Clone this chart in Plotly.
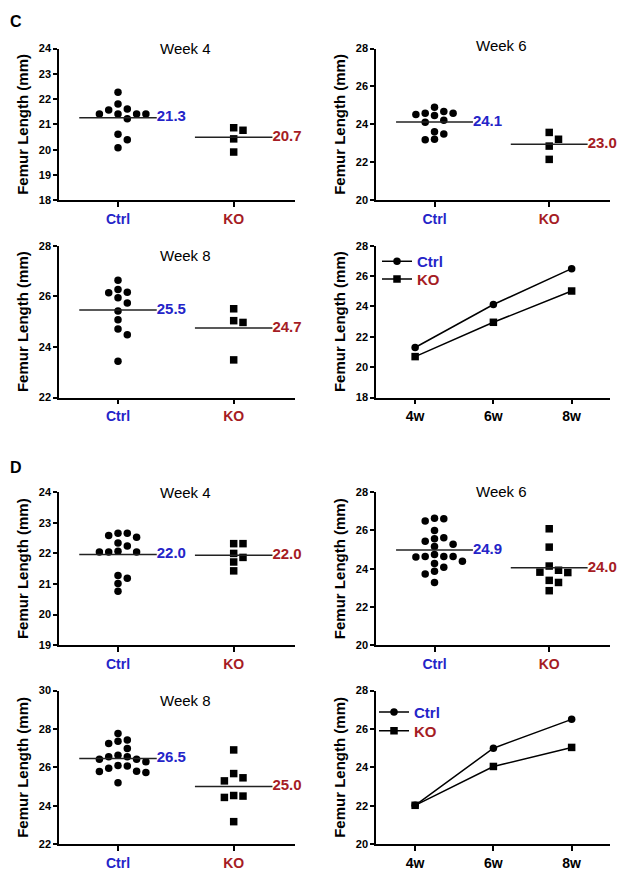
import numpy as np
import plotly.graph_objects as go

# ---------------- data ----------------
groups = ["Ctrl", "KO"]
weeks = ["4w", "6w", "8w"]

c_w4_ctrl = [22.27, 21.81, 21.61, 21.41, 21.41, 21.41, 21.41, 21.57, 21.23, 20.61, 20.40, 20.08]
c_w4_ko = [20.77, 20.87, 20.43, 19.91]
c_w6_ctrl = [24.59, 24.52, 24.22, 24.12, 24.68, 24.90, 24.47, 24.59, 23.50, 23.62, 23.19, 23.22]
c_w6_ko = [23.22, 23.58, 22.86, 22.16]
c_w8_ctrl = [26.64, 26.27, 26.14, 26.16, 25.95, 25.74, 25.42, 25.08, 24.71, 24.48, 23.44]
c_w8_ko = [25.04, 25.51, 24.97, 23.49]

d_w4_ctrl = [22.66, 22.59, 22.53, 22.66, 22.24, 22.34, 22.05, 22.05, 22.05, 22.07, 21.28, 21.19, 21.02, 20.76]
d_w4_ko = [22.00, 22.32, 22.32, 21.87, 21.72, 21.43]
d_w6_ctrl = [26.61, 26.50, 26.64, 26.00, 25.57, 25.62, 25.28, 25.16, 25.44, 24.64, 24.64, 24.61,
             24.64, 24.75, 24.39, 24.27, 24.08, 23.87, 23.73, 23.28]
d_w6_ko = [26.09, 25.13, 23.80, 23.92, 24.14, 23.82, 23.39, 23.28, 22.85]
d_w8_ctrl = [27.77, 27.43, 27.25, 27.36, 26.98, 26.63, 26.10, 26.55, 26.42, 26.29, 26.42, 26.55,
             26.08, 25.96, 25.79, 25.73, 25.80, 25.20]
d_w8_ko = [26.91, 25.68, 25.46, 25.30, 24.51, 24.44, 24.54, 23.18]

c_mean_labels = [["21.3", "20.7"], ["24.1", "23.0"], ["25.5", "24.7"]]
d_mean_labels = [["22.0", "22.0"], ["24.9", "24.0"], ["26.5", "25.0"]]

c_line_ctrl = [21.30, 24.13, 26.49]
c_line_ko = [20.70, 22.96, 25.02]
d_line_ctrl = [22.03, 25.00, 26.50]
d_line_ko = [22.03, 24.05, 25.04]

# ---------------- layout helpers ----------------
PAGE_W, PAGE_H = 629, 883
OFF = 8                      # default body margin of the html page (all sides)
FW, FH = PAGE_W - 2 * OFF, PAGE_H - 2 * OFF


def px(x):                   # page x pixel -> paper fraction
    return (x - OFF) / FW


def py(y):                   # page y pixel -> paper fraction
    return 1 - (y - OFF) / FH


BLUE = "#2424c8"
RED = "#a51c24"
FONT = "Arial, Liberation Sans, sans-serif"

XL = [px(59), px(295)]
XR = [px(376), px(610)]
ROWS = {
    "c1": [py(197), py(43)],
    "c2": [py(397), py(243)],
    "d1": [py(648), py(493)],
    "d2": [py(850), py(694)],
}
SCAT_RANGE = [-0.51, 1.53]
LINE_RANGE = [-0.5, 2.49]

fig = go.Figure()


def swarm(vals, xdom, xrange_, ydom, yrange_, step_px=9.3, diam_px=7.6):
    xppu = (xdom[1] - xdom[0]) * FW / (xrange_[1] - xrange_[0])
    yppu = (ydom[1] - ydom[0]) * FH / (yrange_[1] - yrange_[0])
    order = np.argsort(-np.asarray(vals), kind="stable")
    placed = []
    offs = [0.0] * len(vals)
    cands = [0]
    for k in range(1, 8):
        cands += [k, -k]
    for i in order:
        y = vals[i] * yppu
        x = 0.0
        for c in cands:
            x = c * step_px
            if all((x - qx) ** 2 + (y - qy) ** 2 >= diam_px ** 2 for qx, qy in placed):
                break
        placed.append((x, y))
        offs[i] = x / xppu
    return offs


scatter_panels = [
    # axis idx, ctrl, ko, labels, xdom, row, yrange, dtick, title, title shift (px down)
    (1, c_w4_ctrl, c_w4_ko, c_mean_labels[0], XL, "c1", [18, 24], 1, "Week 4", 0),
    (2, c_w6_ctrl, c_w6_ko, c_mean_labels[1], XR, "c1", [20, 28], 2, "Week 6", -3),
    (3, c_w8_ctrl, c_w8_ko, c_mean_labels[2], XL, "c2", [22, 28], 2, "Week 8", 10),
    (5, d_w4_ctrl, d_w4_ko, d_mean_labels[0], XL, "d1", [19, 24], 1, "Week 4", 0),
    (6, d_w6_ctrl, d_w6_ko, d_mean_labels[1], XR, "d1", [20, 28], 2, "Week 6", -1),
    (7, d_w8_ctrl, d_w8_ko, d_mean_labels[2], XL, "d2", [22, 30], 2, "Week 8", 10),
]

line_panels = [
    (4, c_line_ctrl, c_line_ko, XR, "c2", [18, 28], 2, ("legend", "legend2")),
    (8, d_line_ctrl, d_line_ko, XR, "d2", [20, 28], 2, ("legend3", "legend4")),
]

axis_common = dict(
    showline=True, linecolor="black", linewidth=1.5, showgrid=False, zeroline=False,
    ticks="outside", tickcolor="black", tickwidth=1.5,
)
ytitle = dict(text="Femur Length (mm)", standoff=7,
              font=dict(family=FONT, size=15, color="black", weight="bold"))

annotations = []
HALF = 0.335

for idx, ctrl, ko, labels, xdom, row, yr, dt, title, tdy in scatter_panels:
    sx = "" if idx == 1 else str(idx)
    xa, ya = "x" + sx, "y" + sx
    ydom = ROWS[row]
    for gi, (vals, sym, col) in enumerate([(ctrl, "circle", BLUE), (ko, "square", RED)]):
        offs = swarm(vals, xdom, SCAT_RANGE, ydom, yr)
        fig.add_trace(go.Scatter(
            x=[gi + o for o in offs], y=vals, mode="markers", xaxis=xa, yaxis=ya,
            marker=dict(symbol=sym, size=7.5, color="black", line=dict(width=0)),
            showlegend=False, hoverinfo="y", cliponaxis=False))
        m = float(np.mean(vals))
        fig.add_trace(go.Scatter(
            x=[gi - HALF, gi + HALF], y=[m, m], mode="lines", xaxis=xa, yaxis=ya,
            line=dict(color="#222222", width=1.5), showlegend=False, hoverinfo="skip"))
        fig.add_trace(go.Scatter(
            x=[gi + HALF], y=[m], mode="text", text=[labels[gi]], textposition="middle right",
            textfont=dict(family=FONT, size=15, color=col, weight="bold"), cliponaxis=False,
            xaxis=xa, yaxis=ya, showlegend=False, hoverinfo="skip"))
    fig.layout["xaxis" + sx] = dict(
        domain=xdom, range=SCAT_RANGE, anchor=ya, tickvals=[0, 1],
        ticktext=[f"<span style='color:{BLUE}'>{groups[0]}</span>",
                  f"<span style='color:{RED}'>{groups[1]}</span>"],
        tickfont=dict(family=FONT, size=14, weight="bold"), ticklen=5, **axis_common)
    fig.layout["yaxis" + sx] = dict(
        domain=ydom, range=yr, anchor=xa, dtick=dt, tick0=yr[0], ticklen=4,
        tickfont=dict(family=FONT, size=11, color="black", weight="bold"),
        title=ytitle, **axis_common)
    annotations.append(dict(
        text=title, xref=xa + " domain", yref=ya + " domain", x=0.535, y=1,
        yshift=-tdy, showarrow=False, xanchor="center", yanchor="middle",
        font=dict(family=FONT, size=15, color="black")))

for idx, ctrl, ko, xdom, row, yr, dt, legs in line_panels:
    sx = str(idx)
    xa, ya = "x" + sx, "y" + sx
    ydom = ROWS[row]
    xs = list(range(len(weeks)))
    fig.add_trace(go.Scatter(
        x=xs, y=ctrl, mode="lines+markers", xaxis=xa, yaxis=ya, legend=legs[0],
        name=f"<span style='color:{BLUE}'>{groups[0]}</span>", cliponaxis=False,
        line=dict(color="black", width=1.5), marker=dict(symbol="circle", size=7.5, color="black")))
    fig.add_trace(go.Scatter(
        x=xs, y=ko, mode="lines+markers", xaxis=xa, yaxis=ya, legend=legs[1],
        name=f"<span style='color:{RED}'>{groups[1]}</span>", cliponaxis=False,
        line=dict(color="black", width=1.5), marker=dict(symbol="square", size=7.5, color="black")))
    fig.layout["xaxis" + sx] = dict(
        domain=xdom, range=LINE_RANGE, anchor=ya, tickvals=xs, ticktext=weeks,
        tickfont=dict(family=FONT, size=14, color="black", weight="bold"), ticklen=5, **axis_common)
    fig.layout["yaxis" + sx] = dict(
        domain=ydom, range=yr, anchor=xa, dtick=dt, tick0=yr[0], ticklen=4,
        tickfont=dict(family=FONT, size=11, color="black", weight="bold"),
        title=ytitle, **axis_common)

legend_style = dict(
    xanchor="left", yanchor="middle", bgcolor="rgba(0,0,0,0)", borderwidth=0,
    font=dict(family=FONT, size=15, weight="bold"), itemwidth=30, tracegroupgap=0,
)

for lab, yy in [("C", 16), ("D", 468)]:
    annotations.append(dict(text=f"<b>{lab}</b>", xref="paper", yref="paper", x=px(8), y=py(yy),
                            showarrow=False, xanchor="left", yanchor="middle",
                            font=dict(family=FONT, size=16, color="black")))

fig.update_layout(
    width=FW, height=FH, margin=dict(l=0, r=0, t=0, b=0),
    paper_bgcolor="white", plot_bgcolor="white",
    showlegend=True,
    legend=dict(x=px(377), y=py(259), **legend_style),
    legend2=dict(x=px(377), y=py(277), **legend_style),
    legend3=dict(x=px(374), y=py(716), **legend_style),
    legend4=dict(x=px(374), y=py(735), **legend_style),
    annotations=annotations,
    font=dict(family=FONT),
)

fig.write_html("out.html")
